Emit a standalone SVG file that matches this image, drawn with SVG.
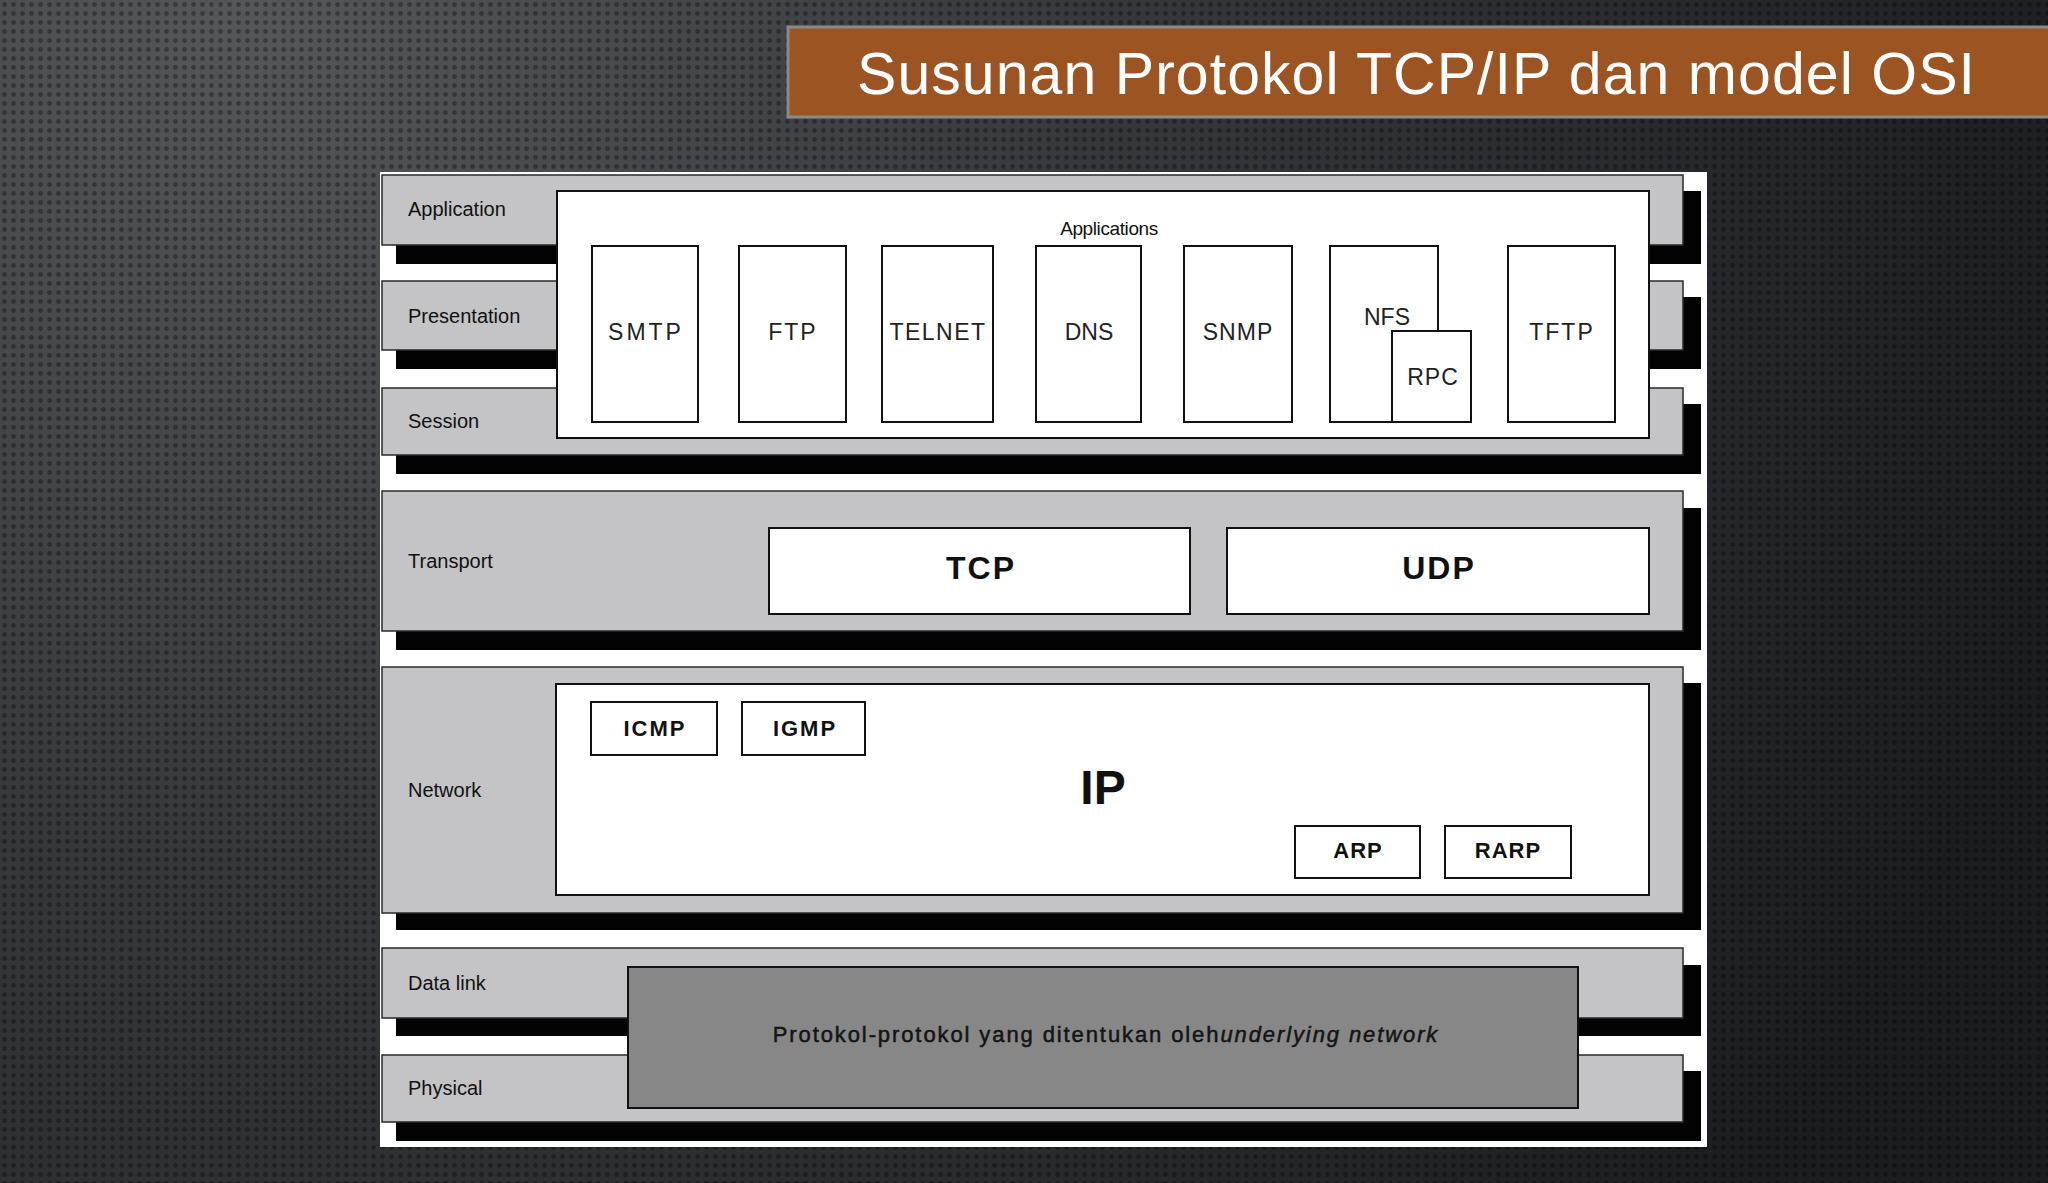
<svg xmlns="http://www.w3.org/2000/svg" width="2048" height="1183" viewBox="0 0 2048 1183">
  <defs>
    <radialGradient id="bgGrad" cx="250" cy="0" r="1900" gradientUnits="userSpaceOnUse">
      <stop offset="0" stop-color="#55575b"/>
      <stop offset="0.45" stop-color="#36383c"/>
      <stop offset="1" stop-color="#1c1d20"/>
    </radialGradient>
    <pattern id="dots" x="0" y="0" width="9" height="9" patternUnits="userSpaceOnUse">
      <circle cx="4.5" cy="4.5" r="2.4" fill="#000" fill-opacity="0.32"/>
    </pattern>
    <style>
      .row { fill: #c4c4c6; stroke: #2a2a2a; stroke-width: 1.5; }
      .shadow { fill: #030303; }
      .box { fill: #ffffff; stroke: #111; stroke-width: 2; }
      .lbl { font-family: "Liberation Sans", Arial, sans-serif; font-size: 20px; fill: #111; }
      .app { font-family: "Liberation Sans", Arial, sans-serif; font-size: 23px; fill: #222; text-anchor: middle; }
      .bold { font-family: "Liberation Sans", Arial, sans-serif; font-weight: bold; fill: #111; text-anchor: middle; }
    </style>
  </defs>

  <!-- background -->
  <rect x="0" y="0" width="2048" height="1183" fill="url(#bgGrad)"/>
  <rect x="0" y="0" width="2048" height="1183" fill="url(#dots)"/>

  <!-- title -->
  <g id="title">
    <rect x="788" y="27" width="1264" height="90" fill="#9d5423" stroke="#8a8a8a" stroke-width="3"/>
    <text x="857" y="94" font-family="Liberation Sans, Arial, sans-serif" font-size="59" fill="#ffffff" textLength="1118">Susunan Protokol TCP/IP dan model OSI</text>
  </g>

  <!-- frame -->
  <rect x="380" y="172" width="1327" height="975" fill="#ffffff"/>

  <!-- OSI layers -->
  <g id="layer-application">
    <rect class="shadow" x="396" y="191" width="1305" height="73"/>
    <rect class="row" x="382" y="175" width="1301" height="70"/>
    <text class="lbl" x="408" y="216">Application</text>
  </g>
  <g id="layer-presentation">
    <rect class="shadow" x="396" y="297" width="1305" height="72"/>
    <rect class="row" x="382" y="281" width="1301" height="69"/>
    <text class="lbl" x="408" y="323">Presentation</text>
  </g>
  <g id="layer-session">
    <rect class="shadow" x="396" y="404" width="1305" height="70"/>
    <rect class="row" x="382" y="388" width="1301" height="67"/>
    <text class="lbl" x="408" y="428">Session</text>
  </g>
  <g id="layer-transport">
    <rect class="shadow" x="396" y="508" width="1305" height="142"/>
    <rect class="row" x="382" y="491" width="1301" height="140"/>
    <text class="lbl" x="408" y="568">Transport</text>
  </g>
  <g id="layer-network">
    <rect class="shadow" x="396" y="683" width="1305" height="247"/>
    <rect class="row" x="382" y="667" width="1301" height="246"/>
    <text class="lbl" x="408" y="797">Network</text>
  </g>
  <g id="layer-datalink">
    <rect class="shadow" x="396" y="965" width="1305" height="71"/>
    <rect class="row" x="382" y="948" width="1301" height="70"/>
    <text class="lbl" x="408" y="990">Data link</text>
  </g>
  <g id="layer-physical">
    <rect class="shadow" x="396" y="1071" width="1305" height="70"/>
    <rect class="row" x="382" y="1055" width="1301" height="67"/>
    <text class="lbl" x="408" y="1095">Physical</text>
  </g>

  <!-- Applications block -->
  <g id="applications">
    <rect class="box" x="557" y="191" width="1092" height="247"/>
    <text x="1109" y="235" font-family="Liberation Sans, Arial, sans-serif" font-size="19" fill="#111" text-anchor="middle" letter-spacing="-0.4">Applications</text>
  </g>
  <g id="smtp">
    <rect class="box" x="592" y="246" width="106" height="176"/>
    <text class="app" x="646" y="340" letter-spacing="3">SMTP</text>
  </g>
  <g id="ftp">
    <rect class="box" x="739" y="246" width="107" height="176"/>
    <text class="app" x="793" y="340" letter-spacing="2">FTP</text>
  </g>
  <g id="telnet">
    <rect class="box" x="882" y="246" width="111" height="176"/>
    <text class="app" x="938" y="340" letter-spacing="1.5">TELNET</text>
  </g>
  <g id="dns">
    <rect class="box" x="1036" y="246" width="105" height="176"/>
    <text class="app" x="1089" y="340">DNS</text>
  </g>
  <g id="snmp">
    <rect class="box" x="1184" y="246" width="108" height="176"/>
    <text class="app" x="1238" y="340" letter-spacing="1">SNMP</text>
  </g>
  <g id="nfs">
    <rect class="box" x="1330" y="246" width="108" height="176"/>
    <text class="app" x="1387" y="325">NFS</text>
  </g>
  <g id="rpc">
    <rect class="box" x="1392" y="331" width="79" height="91"/>
    <text class="app" x="1433" y="385" letter-spacing="1">RPC</text>
  </g>
  <g id="tftp">
    <rect class="box" x="1508" y="246" width="107" height="176"/>
    <text class="app" x="1562" y="340" letter-spacing="2">TFTP</text>
  </g>

  <!-- Transport -->
  <g id="tcp">
    <rect class="box" x="769" y="528" width="421" height="86"/>
    <text class="bold" x="981" y="579" font-size="32" letter-spacing="2">TCP</text>
  </g>
  <g id="udp">
    <rect class="box" x="1227" y="528" width="422" height="86"/>
    <text class="bold" x="1439" y="579" font-size="32" letter-spacing="2">UDP</text>
  </g>

  <!-- Network -->
  <g id="ip">
    <rect class="box" x="556" y="684" width="1093" height="211"/>
    <text class="bold" x="1103" y="804" font-size="48">IP</text>
  </g>
  <g id="icmp">
    <rect class="box" x="591" y="702" width="126" height="53"/>
    <text class="bold" x="655" y="736" font-size="22" letter-spacing="2">ICMP</text>
  </g>
  <g id="igmp">
    <rect class="box" x="742" y="702" width="123" height="53"/>
    <text class="bold" x="805" y="736" font-size="22" letter-spacing="2">IGMP</text>
  </g>
  <g id="arp">
    <rect class="box" x="1295" y="826" width="125" height="52"/>
    <text class="bold" x="1358" y="858" font-size="22" letter-spacing="1">ARP</text>
  </g>
  <g id="rarp">
    <rect class="box" x="1445" y="826" width="126" height="52"/>
    <text class="bold" x="1508" y="858" font-size="22" letter-spacing="1">RARP</text>
  </g>

  <!-- Data link / Physical -->
  <g id="underlying-network">
    <rect x="628" y="967" width="950" height="141" fill="#878787" stroke="#111" stroke-width="2"/>
    <text x="1106" y="1042" font-family="Liberation Sans, Arial, sans-serif" font-size="22" fill="#141414" stroke="#141414" stroke-width="0.5" text-anchor="middle" letter-spacing="1.9">Protokol-protokol yang ditentukan oleh<tspan font-style="italic">underlying network</tspan></text>
  </g>

  <g id="connectors"/>
</svg>
